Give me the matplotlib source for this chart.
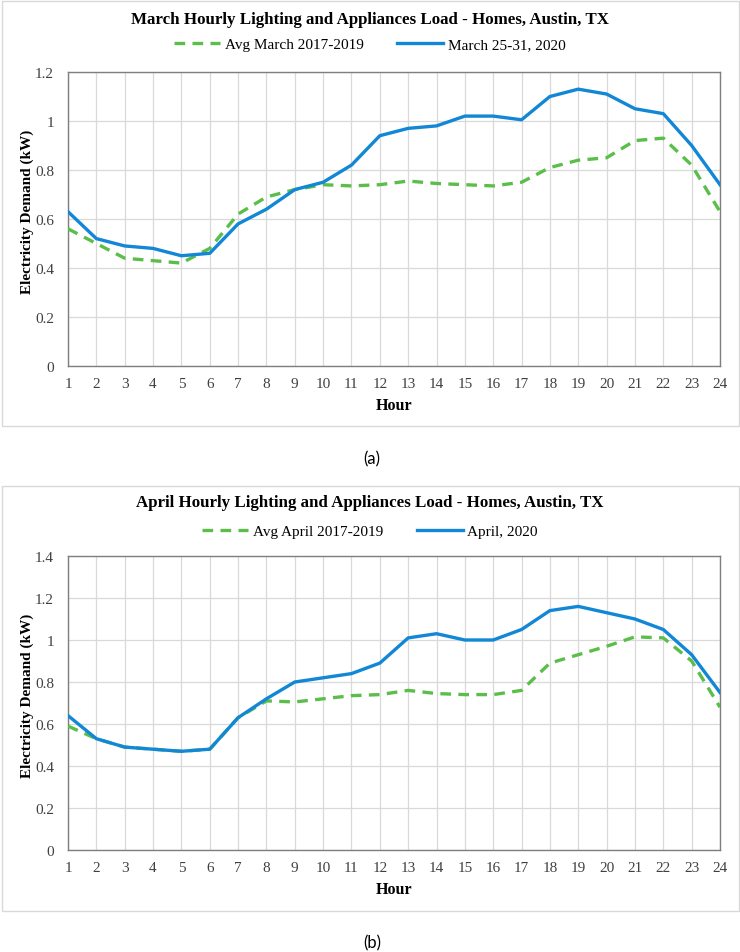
import matplotlib
matplotlib.use("Agg")
import matplotlib.pyplot as plt
from matplotlib.patches import Rectangle

BLUE = "#1287D6"
GREEN = "#5BBE4B"
GRID = "#D9D9D9"
SPINE = "#7F7F7F"
SERIF = ["Liberation Serif", "DejaVu Serif"]

hours = list(range(1, 25))

march_avg = [0.56, 0.50, 0.44, 0.43, 0.42, 0.48, 0.62, 0.69, 0.72, 0.74, 0.735, 0.74,
             0.755, 0.745, 0.74, 0.735, 0.75, 0.81, 0.84, 0.85, 0.92, 0.93, 0.82, 0.63]
march_2020 = [0.63, 0.52, 0.49, 0.48, 0.45, 0.46, 0.58, 0.64, 0.72, 0.75, 0.82, 0.94,
              0.97, 0.98, 1.02, 1.02, 1.005, 1.10, 1.13, 1.11, 1.05, 1.03, 0.90, 0.74]

april_avg = [0.59, 0.53, 0.49, 0.48, 0.47, 0.48, 0.63, 0.71, 0.705, 0.72, 0.735, 0.74,
             0.76, 0.745, 0.74, 0.74, 0.76, 0.89, 0.93, 0.97, 1.015, 1.01, 0.90, 0.68]
april_2020 = [0.64, 0.53, 0.49, 0.48, 0.47, 0.48, 0.63, 0.72, 0.80, 0.82, 0.84, 0.89,
              1.01, 1.03, 1.00, 1.00, 1.05, 1.14, 1.16, 1.13, 1.10, 1.05, 0.93, 0.75]

panels = [
    dict(title="March Hourly Lighting and Appliances Load - Homes, Austin, TX",
         avg=march_avg, cur=march_2020,
         avg_label="Avg March 2017-2019", cur_label="March 25-31, 2020",
         ymax=1.2, yticks=[0, 0.2, 0.4, 0.6, 0.8, 1.0, 1.2],
         ytlabels=["0", "0.2", "0.4", "0.6", "0.8", "1", "1.2"],
         box=(2, 2, 739, 427), ax=(68, 73, 720, 367),
         title_y=20, legend_y=45, hour_y=406, cap_y=459, cap="(a)"),
    dict(title="April Hourly Lighting and Appliances Load - Homes, Austin, TX",
         avg=april_avg, cur=april_2020,
         avg_label="Avg April 2017-2019", cur_label="April, 2020",
         ymax=1.4, yticks=[0, 0.2, 0.4, 0.6, 0.8, 1.0, 1.2, 1.4],
         ytlabels=["0", "0.2", "0.4", "0.6", "0.8", "1", "1.2", "1.4"],
         box=(2, 487, 739, 912), ax=(68, 557, 720, 851),
         title_y=503, legend_y=532, hour_y=890, cap_y=943, cap="(b)"),
]

W, H = 740, 953
fig = plt.figure(figsize=(W / 100, H / 100), dpi=100)


def fx(x):
    return x / W


def fy(y):
    return 1 - y / H


for p in panels:
    x0, y0, x1, y1 = p["box"]
    fig.patches.append(Rectangle((fx(x0), fy(y1)), fx(x1 - x0), (y1 - y0) / H,
                                 transform=fig.transFigure, facecolor="white",
                                 edgecolor=GRID, linewidth=1.0, zorder=-5))
    ax0, ay0, ax1, ay1 = p["ax"]
    ax = fig.add_axes([fx(ax0), fy(ay1), fx(ax1 - ax0), (ay1 - ay0) / H], zorder=2)
    ax.plot(hours, p["avg"], color=GREEN, lw=2.4, ls=(0, (3.2, 2.2)),
            label=p["avg_label"], zorder=3)
    ax.plot(hours, p["cur"], color=BLUE, lw=2.4, label=p["cur_label"], zorder=4)
    ax.set_xlim(1, 24)
    ax.set_ylim(0, p["ymax"])
    ax.set_xticks(hours)
    ax.set_xticklabels([str(h) for h in hours], family=SERIF, fontsize=11, color="#404040")
    ax.set_yticks(p["yticks"])
    ax.set_yticklabels(p["ytlabels"], family=SERIF, fontsize=11, color="#404040")
    ax.tick_params(length=0, pad=8)
    ax.tick_params(axis="y", pad=10)
    ax.grid(True, color=GRID, lw=0.9)
    ax.set_axisbelow(True)
    for s in ax.spines.values():
        s.set_color(SPINE)
        s.set_linewidth(1.0)
    fig.text(fx(27), fy((ay0 + ay1) / 2 - 8), "Electricity Demand (kW)", rotation=90,
             ha="center", va="center", family=SERIF, fontweight="bold", fontsize=11)
    fig.text(fx(394), fy(p["hour_y"]), "Hour", ha="center", va="center",
             family=SERIF, fontweight="bold", fontsize=11.5)
    fig.text(fx(370), fy(p["title_y"]), p["title"], ha="center", va="center",
             family=SERIF, fontweight="bold", fontsize=12.2)
    ax.legend(loc="center", bbox_to_anchor=(fx(370), fy(p["legend_y"])),
              bbox_transform=fig.transFigure, ncol=2, frameon=False,
              prop={"family": SERIF, "size": 11}, handlelength=3.0,
              handletextpad=0.3, columnspacing=2.2)
    fig.text(fx(372), fy(p["cap_y"]), p["cap"], ha="center", va="center",
             family=["Lato", "DejaVu Sans"], fontsize=12)

fig.savefig("out.png", dpi=100)
